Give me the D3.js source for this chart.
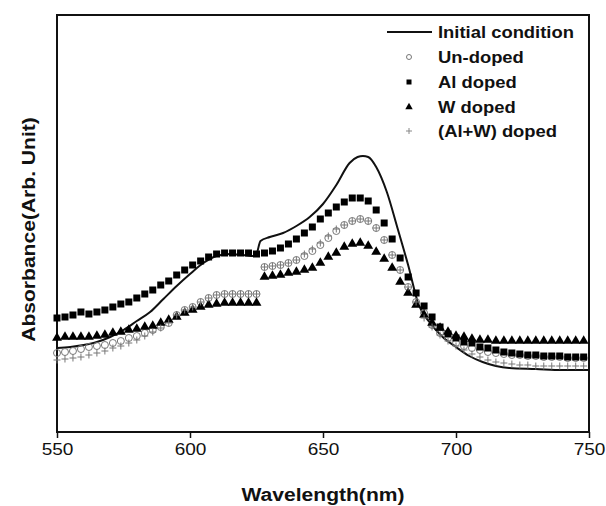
<!DOCTYPE html>
<html><head><meta charset="utf-8">
<script src="https://cdn.jsdelivr.net/npm/d3@7"></script>
<style>body{margin:0;background:#fff}svg{display:block}</style>
</head><body>
<script>
// ---- data ----
const lineWl = [550,555,560,565,570,575,580,585,590,595,600,605,610,615,620,624,625,626.5,630,635,640,645,650,655,660,663,665,667,670,674,678,682,686,690,695,700,705,710,715,720,730,740,750];
const initialCondition = [0.84,0.85,0.87,0.90,0.95,1.02,1.11,1.20,1.33,1.46,1.58,1.69,1.76,1.78,1.77,1.76,1.78,1.91,1.95,1.99,2.06,2.15,2.28,2.47,2.69,2.75,2.76,2.75,2.65,2.40,2.04,1.67,1.27,1.10,0.95,0.85,0.76,0.70,0.66,0.64,0.63,0.62,0.62];

const markerWl = d3.range(550, 749, 3); // 550..748
const alDoped = [1.14,1.15,1.17,1.20,1.18,1.20,1.22,1.25,1.28,1.30,1.34,1.38,1.42,1.47,1.51,1.57,1.62,1.67,1.71,1.75,1.78,1.79,1.79,1.79,1.79,1.78,1.79,
  1.81,1.84,1.88,1.93,1.99,2.05,2.13,2.19,2.25,2.30,2.34,2.34,2.31,2.22,2.09,1.93,1.74,1.55,1.39,1.26,1.15,1.05,0.98,0.94,0.90,0.89,0.85,0.84,0.82,0.80,0.79,0.78,0.77,0.77,0.76,0.76,0.76,0.75,0.75,0.75];
const wDoped = [0.94,0.95,0.95,0.95,0.95,0.96,0.97,0.99,1.00,1.02,1.03,1.05,1.06,1.09,1.12,1.15,1.19,1.22,1.25,1.27,1.28,1.29,1.29,1.29,1.29,1.29,
  1.55,1.56,1.57,1.59,1.60,1.62,1.64,1.69,1.75,1.79,1.85,1.88,1.89,1.86,1.80,1.73,1.64,1.50,1.39,1.27,1.17,1.09,1.04,1.00,0.96,0.95,0.93,
  0.92,0.92,0.91,0.91,0.91,0.91,0.91,0.91,0.91,0.91,0.91,0.91,0.91,0.91];
const unDoped = [0.79,0.80,0.81,0.83,0.85,0.86,0.87,0.89,0.91,0.94,0.96,0.99,1.02,1.05,1.09,1.17,1.22,1.25,1.30,1.34,1.37,1.38,1.38,1.38,1.38,1.38,
  1.65,1.66,1.67,1.69,1.72,1.76,1.81,1.87,1.94,2.01,2.07,2.11,2.13,2.11,2.04,1.92,1.77,1.62,1.45,1.30,1.19,1.07,0.99,0.94,0.89,0.86,0.84,
  0.82,0.80,0.79,0.78,0.77,0.77,0.76,0.76,0.75,0.75,0.75,0.74,0.74,0.74];
const alwDoped = [0.72,0.73,0.74,0.75,0.77,0.79,0.81,0.84,0.86,0.89,0.92,0.96,1.00,1.04,1.09,1.17,1.22,1.25,1.30,1.34,1.37,1.38,1.38,1.38,1.38,1.38,
  1.65,1.66,1.67,1.69,1.72,1.78,1.83,1.89,1.96,2.03,2.07,2.11,2.13,2.11,2.04,1.92,1.77,1.62,1.45,1.30,1.14,1.05,0.97,0.91,0.86,0.82,0.78,
  0.75,0.72,0.70,0.69,0.68,0.67,0.67,0.66,0.66,0.66,0.66,0.66,0.66,0.66];
const xTicks = [550,600,650,700,750];
const legendLabels = ["Initial condition","Un-doped","Al doped","W doped","(Al+W) doped"];
const xTitle = "Wavelength(nm)";
const yTitle = "Absorbance(Arb. Unit)";

// ---- layout ----
const W = 606, H = 506;
const m = {l:57, r:589, t:15, b:432};
const svg = d3.select("body").append("svg").attr("width", W).attr("height", H);
const x = d3.scaleLinear().domain([550,750]).range([m.l, m.r]);
const y = d3.scaleLinear().domain([0,4.17]).range([m.b, m.t]);
const FONT = "'Liberation Sans', Arial, Helvetica, sans-serif";

function stretch(sel, k){
  sel.each(function(){
    const len = this.getComputedTextLength();
    d3.select(this).attr("textLength", len*k).attr("lengthAdjust","spacingAndGlyphs");
  });
}

// frame
svg.append("rect").attr("x", m.l).attr("y", m.t).attr("width", m.r-m.l).attr("height", m.b-m.t)
  .attr("fill","none").attr("stroke","#111").attr("stroke-width",2);

// x axis
const xAxis = svg.append("g").attr("transform",`translate(0,${m.b})`)
  .call(d3.axisBottom(x).tickValues(xTicks).tickSize(6).tickPadding(5).tickFormat(d3.format("d")));
xAxis.select(".domain").remove();
xAxis.selectAll(".tick line").attr("stroke","#111").attr("stroke-width",1.5);
xAxis.selectAll(".tick text").attr("font-family",FONT).attr("font-size",17).attr("fill","#111").call(stretch,1.12);

// titles
svg.append("text").attr("x",(m.l+m.r)/2).attr("y",501).attr("text-anchor","middle")
  .attr("font-family",FONT).attr("font-weight","bold").attr("font-size",18).attr("fill","#111")
  .text(xTitle).call(stretch,1.17);
svg.append("text").attr("transform",`translate(35,${(m.t+m.b)/2+6}) rotate(-90)`).attr("text-anchor","middle")
  .attr("font-family",FONT).attr("font-weight","bold").attr("font-size",18).attr("fill","#111")
  .text(yTitle).call(stretch,1.17);

const plot = svg.append("g");

// line
plot.append("path").datum(lineWl.map((w,i)=>[w, initialCondition[i]]))
  .attr("fill","none").attr("stroke","#111").attr("stroke-width",2)
  .attr("d", d3.line().x(d=>x(d[0])).y(d=>y(d[1])).curve(d3.curveMonotoneX));

const pts = arr => markerWl.map((w,i)=>({w, v:arr[i]}));
const sq = 7, tri = 42, cr = 3.5, pl = 3.5;

// circles
plot.append("g").selectAll("circle").data(pts(unDoped)).join("circle")
  .attr("cx",d=>x(d.w)).attr("cy",d=>y(d.v)).attr("r",cr)
  .attr("fill","none").attr("stroke","#777").attr("stroke-width",1);
// squares
plot.append("g").selectAll("rect").data(pts(alDoped)).join("rect")
  .attr("x",d=>x(d.w)-sq/2).attr("y",d=>y(d.v)-sq/2).attr("width",sq).attr("height",sq).attr("fill","#000");
// triangles
plot.append("g").selectAll("path").data(pts(wDoped)).join("path")
  .attr("transform",d=>`translate(${x(d.w)},${y(d.v)})`)
  .attr("d", d3.symbol().type(d3.symbolTriangle).size(tri)).attr("fill","#000");
// plus
plot.append("g").selectAll("path").data(pts(alwDoped)).join("path")
  .attr("d",d=>{const cx=x(d.w), cy=y(d.v); return `M${cx-pl},${cy}H${cx+pl}M${cx},${cy-pl}V${cy+pl}`;})
  .attr("stroke","#777").attr("stroke-width",1).attr("fill","none");

// legend
const lg = svg.append("g");
const rowY = [32,57,82,107,131];
const mx = 409, tx = 438;
lg.append("line").attr("x1",387).attr("x2",432).attr("y1",rowY[0]).attr("y2",rowY[0]).attr("stroke","#111").attr("stroke-width",2);
lg.append("circle").attr("cx",mx).attr("cy",rowY[1]).attr("r",2.5).attr("fill","none").attr("stroke","#777");
lg.append("rect").attr("x",mx-2.5).attr("y",rowY[2]-2.5).attr("width",5).attr("height",5).attr("fill","#000");
lg.append("path").attr("transform",`translate(${mx},${rowY[3]})`).attr("d",d3.symbol().type(d3.symbolTriangle).size(24)).attr("fill","#000");
lg.append("path").attr("d",`M${mx-3},${rowY[4]}H${mx+3}M${mx},${rowY[4]-3}V${rowY[4]+3}`).attr("stroke","#888").attr("stroke-width",1);
lg.selectAll("text").data(legendLabels).join("text")
  .attr("x",tx).attr("y",(d,i)=>rowY[i]+6).attr("font-family",FONT).attr("font-weight","bold")
  .attr("font-size",16).attr("fill","#111").text(d=>d).call(stretch,1.15);
</script>
</body></html>
